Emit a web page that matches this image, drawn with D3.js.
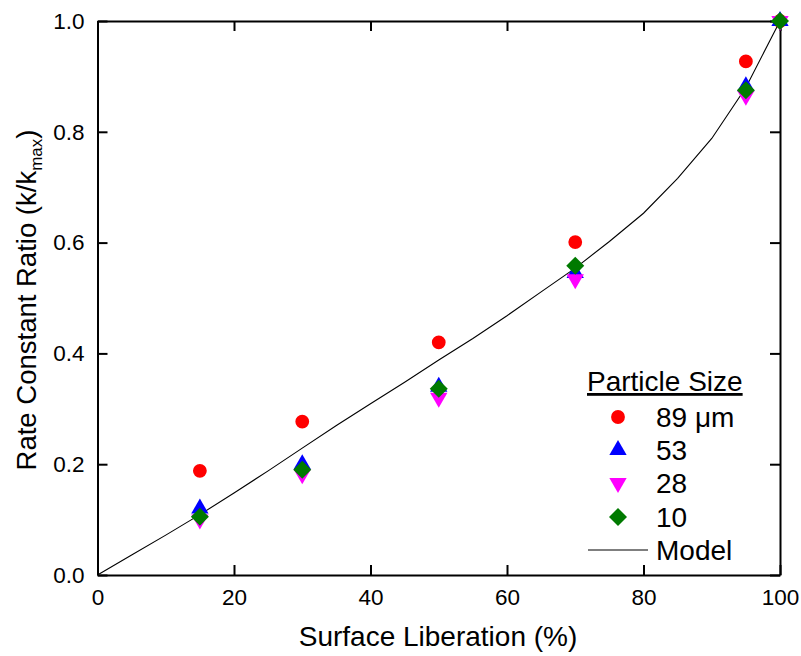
<!DOCTYPE html>
<html>
<head>
<meta charset="utf-8">
<script src="https://cdn.jsdelivr.net/npm/d3@7"></script>
<style>
  body { margin: 0; background: #fff; }
  svg { display: block; font-family: "Liberation Sans", Arial, sans-serif; }
</style>
</head>
<body>
<svg id="chart" width="801" height="656"></svg>
<script>
// ---- data ----
const liberation = [15, 30, 50, 70, 95, 100];
const size89 = [0.188, 0.277, 0.420, 0.601, 0.927, 1.0];
const size53 = [0.120, 0.200, 0.340, 0.545, 0.882, 1.0];
const size28 = [0.100, 0.182, 0.320, 0.534, 0.865, 1.0];
const size10 = [0.105, 0.190, 0.336, 0.558, 0.875, 1.0];
const modelX = [0, 5, 10, 15, 20, 25, 30, 35, 40, 45, 50, 55, 60, 65, 70, 75, 80, 85, 90, 95, 100];
const modelY = [0, 0.036, 0.072, 0.109, 0.148, 0.188, 0.229, 0.270, 0.309, 0.348, 0.388, 0.427, 0.468, 0.511, 0.554, 0.602, 0.653, 0.716, 0.788, 0.880, 1.0];
const xTicks = [0, 20, 40, 60, 80, 100];
const yTicks = [0, 0.2, 0.4, 0.6, 0.8, 1.0];
const seriesNames = ["89 \u03bcm", "53", "28", "10"];
const seriesColors = ["#ff0000", "#0000ff", "#ff00ff", "#007a00"];

const svg = d3.select("#chart");
const L = 97.5, R = 780, T = 21, B = 575;
const x = d3.scaleLinear().domain([0, 100]).range([L, R]);
const y = d3.scaleLinear().domain([0, 1]).range([B, T]);

// axes (ticks inward)
const tickLen = 10;
const axB = svg.append("g").attr("transform", `translate(0,${B})`)
  .call(d3.axisBottom(x).tickValues(xTicks).tickSizeInner(-tickLen).tickSizeOuter(0).tickPadding(14).tickFormat(d3.format("d")));
const axT = svg.append("g").attr("transform", `translate(0,${T})`)
  .call(d3.axisTop(x).tickValues(xTicks).tickSizeInner(-tickLen).tickSizeOuter(0).tickFormat(""));
const axL = svg.append("g").attr("transform", `translate(${L},0)`)
  .call(d3.axisLeft(y).tickValues(yTicks).tickSizeInner(-tickLen).tickSizeOuter(0).tickPadding(13).tickFormat(d3.format(".1f")));
const axR = svg.append("g").attr("transform", `translate(${R},0)`)
  .call(d3.axisRight(y).tickValues(yTicks).tickSizeInner(-tickLen).tickSizeOuter(0).tickFormat(""));
[axB, axT, axL, axR].forEach(g => {
  g.selectAll("path.domain").attr("stroke", "#000").attr("stroke-width", 2);
  g.selectAll(".tick line").attr("stroke", "#000").attr("stroke-width", 2);
  g.selectAll(".tick text").attr("font-size", 22.5).attr("fill", "#000").attr("font-family", "Liberation Sans, Arial, sans-serif");
});

// model line
const line = d3.line().x((d, i) => x(modelX[i])).y(d => y(d));
svg.append("path").datum(modelY).attr("d", line)
  .attr("fill", "none").attr("stroke", "#000").attr("stroke-width", 1.1);

// markers
const sym = [d3.symbolCircle, d3.symbolTriangle, d3.symbolTriangle, d3.symbolDiamond];
const symSize = [150, 130, 130, 150];
const rot = [0, 0, 180, 0];
function drawMarker(g, i, cx, cy) {
  if (i === 3) {
    const s = 9;
    g.append("path").attr("d", `M${cx},${cy - s}L${cx + s},${cy}L${cx},${cy + s}L${cx - s},${cy}Z`).attr("fill", seriesColors[i]);
  } else {
    g.append("path").attr("d", d3.symbol().type(sym[i]).size(symSize[i])())
      .attr("transform", `translate(${cx},${cy}) rotate(${rot[i]})`)
      .attr("fill", seriesColors[i]);
  }
}
const allSeries = [size89, size53, size28, size10];
const pts = svg.append("g");
allSeries.forEach((vals, i) => {
  vals.forEach((v, j) => drawMarker(pts, i, x(liberation[j]), y(v)));
});

// legend
const fs = 28;
const lg = svg.append("g");
lg.append("text").attr("x", 587).attr("y", 391).attr("font-size", fs)
  .attr("text-decoration", "underline").text("Particle Size");
const legY = [417, 450, 483, 517];
seriesNames.forEach((n, i) => {
  drawMarker(lg, i, 618, legY[i]);
  lg.append("text").attr("x", 656).attr("y", legY[i] + 10).attr("font-size", fs).text(n);
});
lg.append("line").attr("x1", 588).attr("x2", 648).attr("y1", 550).attr("y2", 550)
  .attr("stroke", "#000").attr("stroke-width", 1.1);
lg.append("text").attr("x", 656).attr("y", 560).attr("font-size", fs).text("Model");

// axis titles
svg.append("text").attr("x", 438).attr("y", 646).attr("text-anchor", "middle")
  .attr("font-size", fs).text("Surface Liberation (%)");
const yt = svg.append("text").attr("transform", `translate(36,${(T + B) / 2 + 2}) rotate(-90)`)
  .attr("text-anchor", "middle").attr("font-size", 27.5);
yt.append("tspan").text("Rate Constant Ratio (k/k");
yt.append("tspan").attr("font-size", 17).attr("dy", 6).text("max");
yt.append("tspan").attr("dy", -6).text(")");
</script>
</body>
</html>
